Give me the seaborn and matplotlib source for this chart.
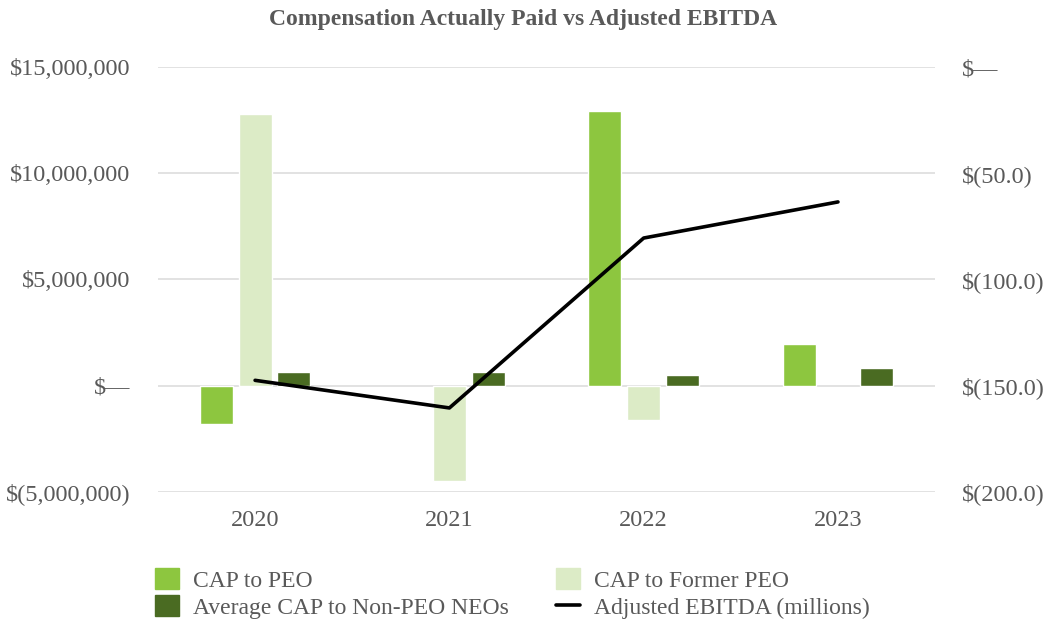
import pandas as pd
import numpy as np
import matplotlib
matplotlib.use('Agg')
import matplotlib.pyplot as plt
from matplotlib.patches import Patch
from matplotlib.lines import Line2D
import seaborn as sns

sns.set_style('white')
plt.rcParams['font.family'] = ['Liberation Serif', 'DejaVu Serif']

years = ['2020', '2021', '2022', '2023']
cap_peo = [-1.8e6, np.nan, 12.95e6, 1.95e6]
cap_former_peo = [12.8e6, -4.48e6, -1.62e6, np.nan]
cap_non_peo = [0.62e6, 0.62e6, 0.52e6, 0.85e6]
ebitda = [-147.5, -160.5, -80.5, -63.5]

series = ['CAP to PEO', 'CAP to Former PEO', 'Average CAP to Non-PEO NEOs']
colors = ['#8DC63F', '#DCEBC6', '#4A6B22']
text_color = '#595959'

df = pd.DataFrame({'year': years * 3,
                   'series': [s for s in series for _ in years],
                   'value': cap_peo + cap_former_peo + cap_non_peo})

fig = plt.figure(figsize=(10.46, 6.21), dpi=100)
ax = fig.add_axes([0.151, 0.208, 0.743, 0.684])

sns.barplot(data=df, x='year', y='value', hue='series', hue_order=series,
            order=years, palette=colors, width=0.6, gap=0.15, ax=ax,
            legend=False, saturation=1)

ax.set_xlim(-0.5, 3.5)
ax.set_ylim(-5e6, 15e6)
ax.set_yticks([-5e6, 0, 5e6, 10e6, 15e6])
ax.set_yticklabels(['$(5,000,000)', '$\u2014', '$5,000,000', '$10,000,000', '$15,000,000'])
ax.yaxis.grid(True, color='#DDDDDD', linewidth=1.2)
ax.set_axisbelow(True)
ax.set_xlabel('')
ax.set_ylabel('')
for s in ax.spines.values():
    s.set_visible(False)
ax.tick_params(axis='both', length=0, labelsize=17.5, colors=text_color)
ax.tick_params(axis='y', pad=20)
ax.tick_params(axis='x', pad=13)

ax2 = ax.twinx()
sns.lineplot(x=np.arange(len(years)), y=ebitda, color='black', linewidth=2.6, ax=ax2)
ax2.set_ylim(-200, 0)
ax2.set_yticks([-200, -150, -100, -50, 0])
ax2.set_yticklabels(['$(200.0)', '$(150.0)', '$(100.0)', '$(50.0)', '$\u2014'])
for s in ax2.spines.values():
    s.set_visible(False)
ax2.tick_params(axis='y', length=0, labelsize=17.5, colors=text_color, pad=19.5)
ax2.grid(False)

fig.suptitle('Compensation Actually Paid vs Adjusted EBITDA', x=0.5, y=0.985,
             fontsize=17, fontweight='bold', color=text_color)

handles = [Patch(color=colors[0]), Patch(color=colors[2]),
           Patch(color=colors[1]), Line2D([0], [0], color='black', linewidth=2.6)]
labels = ['CAP to PEO', 'Average CAP to Non-PEO NEOs',
          'CAP to Former PEO', 'Adjusted EBITDA (millions)']
fig.legend(handles, labels, ncol=2, loc='lower left', bbox_to_anchor=(0.128, -0.031),
           frameon=False, fontsize=17, labelcolor=text_color, handlelength=1.0,
           handleheight=1.0, handletextpad=0.6, columnspacing=2.0, labelspacing=0.15)

fig.savefig('out.png', dpi=100)
